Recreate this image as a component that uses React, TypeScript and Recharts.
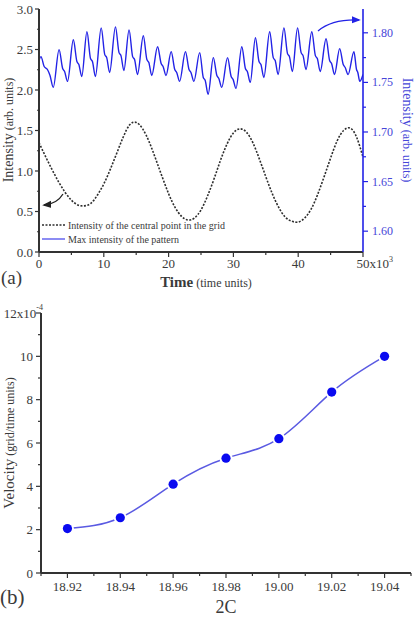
import React from "react";
import { ComposedChart, LineChart, Line, XAxis, YAxis, Legend } from "recharts";

const FONT = '"Liberation Serif", "Times New Roman", serif';
const INK = "#3a3a3a";
const AXIS = "#333333";
const FRAME = "#5a5a5a";
const BLUE = "#2222e6";
const BLUE_TEXT = "#4646d8";

// ---- panel (a): time in units of 10^3 time units ----
const centralTime = [
  0, 1, 2, 3, 4, 5, 6, 7, 8, 9, 10, 11, 12, 13, 14, 15, 16, 17, 18, 19, 20, 21, 22, 23, 24, 25,
  26, 27, 28, 29, 30, 31, 32, 33, 34, 35, 36, 37, 38, 39, 40, 41, 42, 43, 44, 45, 46, 47, 48, 49, 50,
];
const centralIntensity = [
  1.35, 1.18, 1.02, 0.87, 0.74, 0.64, 0.58, 0.57, 0.6, 0.7, 0.84, 1.02, 1.22, 1.42, 1.57, 1.6, 1.52,
  1.36, 1.15, 0.93, 0.72, 0.55, 0.44, 0.395, 0.42, 0.52, 0.69, 0.9, 1.13, 1.33, 1.47, 1.52, 1.48, 1.35,
  1.15, 0.93, 0.72, 0.55, 0.43, 0.38, 0.37, 0.42, 0.53, 0.71, 0.93, 1.16, 1.37, 1.5, 1.53, 1.42, 1.17,
];

// max intensity of the pattern: [time, intensity] on the right-hand scale
const maxTrace: [number, number][] = [
  [0, 1.772], [0.3, 1.776], [0.8, 1.766], [1.3, 1.763], [1.7, 1.757], [2.2, 1.745],
  [3.1, 1.783], [3.65, 1.764], [3.95, 1.761], [4.4, 1.751],
  [5.3, 1.793], [5.85, 1.771], [6.15, 1.768], [6.6, 1.756],
  [7.4, 1.801], [7.95, 1.774], [8.25, 1.771], [8.7, 1.756],
  [9.6, 1.805], [10.15, 1.778], [10.45, 1.775], [10.9, 1.76],
  [11.8, 1.806], [12.35, 1.78], [12.65, 1.777], [13.1, 1.762],
  [13.9, 1.803], [14.45, 1.776], [14.75, 1.773], [15.2, 1.758],
  [16.1, 1.797], [16.65, 1.773], [16.95, 1.77], [17.4, 1.757],
  [18.3, 1.786], [18.85, 1.769], [19.15, 1.766], [19.6, 1.757],
  [20.4, 1.781], [20.95, 1.763], [21.25, 1.76], [21.7, 1.751],
  [22.6, 1.781], [23.15, 1.763], [23.45, 1.76], [23.9, 1.751],
  [24.8, 1.78], [25.35, 1.755], [25.65, 1.752], [26.1, 1.738],
  [26.9, 1.775], [27.45, 1.757], [27.75, 1.754], [28.2, 1.745],
  [29.1, 1.775], [29.65, 1.756], [29.95, 1.753], [30.4, 1.744],
  [31.3, 1.786], [31.85, 1.764], [32.15, 1.761], [32.6, 1.75],
  [33.4, 1.795], [33.95, 1.771], [34.25, 1.768], [34.7, 1.755],
  [35.6, 1.801], [36.15, 1.775], [36.45, 1.772], [36.9, 1.758],
  [37.8, 1.805], [38.35, 1.779], [38.65, 1.776], [39.1, 1.761],
  [39.9, 1.805], [40.45, 1.78], [40.75, 1.777], [41.2, 1.763],
  [42.1, 1.801], [42.65, 1.777], [42.95, 1.774], [43.4, 1.761],
  [44.3, 1.794], [44.85, 1.772], [45.15, 1.769], [45.6, 1.758],
  [46.4, 1.784], [46.95, 1.768], [47.25, 1.765], [47.7, 1.758],
  [48.6, 1.781], [49.0, 1.763], [49.2, 1.76], [49.5, 1.751], [50, 1.758],
];

const timeTicks = [0, 5, 10, 15, 20, 25, 30, 35, 40, 45, 50];
const frameTimeTicks = [5, 10, 15, 20, 25, 30, 35, 40, 45];
const leftTicks = [0, 0.25, 0.5, 0.75, 1, 1.25, 1.5, 1.75, 2, 2.25, 2.5, 2.75, 3];
const rightTicks = [1.6, 1.625, 1.65, 1.675, 1.7, 1.725, 1.75, 1.775, 1.8];

// ---- panel (b): velocity in units of 10^-4 grid/time units ----
const coupling = [18.92, 18.94, 18.96, 18.98, 19.0, 19.02, 19.04];
const velocity = [2.05, 2.55, 4.1, 5.3, 6.2, 8.35, 10.0];
const couplingTicks = [
  18.91, 18.92, 18.93, 18.94, 18.95, 18.96, 18.97, 18.98, 18.99, 19.0, 19.01, 19.02, 19.03, 19.04, 19.05,
];
const velocityTicks = [0, 1, 2, 3, 4, 5, 6, 7, 8, 9, 10, 11, 12];

const centralData = centralTime.map((t, i) => ({ t, v: centralIntensity[i] }));
const maxData = maxTrace.map(([t, v]) => ({ t, v }));
const velocityData = coupling.map((c, i) => ({ c, v: velocity[i] }));

type Side = "top" | "bottom" | "left" | "right";
type TickLabel = { text: React.ReactNode; anchor?: "start" | "middle" | "end"; dx?: number } | null;

interface TickSpec {
  side: Side;
  isMajor: (v: number) => boolean;
  label?: (v: number) => TickLabel;
  stroke: string;
  fill?: string;
  fontSize?: number;
  majorLen: number;
  minorLen: number;
  gap?: number;
}

// draws its own tick mark (major/minor) plus the label, from the axis line outward
function axisTick(spec: TickSpec) {
  return function Tick(props: any) {
    const { x, y, payload } = props;
    const v = payload.value as number;
    const major = spec.isMajor(v);
    const len = major ? spec.majorLen : spec.minorLen;
    let x2 = x;
    let y2 = y;
    if (spec.side === "bottom" || spec.side === "top") y2 = y + len;
    if (spec.side === "left") x2 = x - len;
    if (spec.side === "right") x2 = x + len;
    const lab = major && spec.label ? spec.label(v) : null;
    const gap = spec.gap ?? 0;
    const common = {
      fontFamily: FONT,
      fontSize: spec.fontSize ?? 13,
      fill: spec.fill ?? INK,
    };
    let text: React.ReactNode = null;
    if (lab) {
      if (spec.side === "bottom") {
        text = (
          <text x={x + (lab.dx ?? 0)} y={y + gap} textAnchor={lab.anchor ?? "middle"} {...common}>
            {lab.text}
          </text>
        );
      } else if (spec.side === "left") {
        text = (
          <text x={x - gap + (lab.dx ?? 0)} y={y} dominantBaseline="central" textAnchor={lab.anchor ?? "end"} {...common}>
            {lab.text}
          </text>
        );
      } else if (spec.side === "right") {
        text = (
          <text x={x + gap} y={y} dominantBaseline="central" textAnchor="start" {...common}>
            {lab.text}
          </text>
        );
      }
    }
    return (
      <g>
        {len > 0 && <line x1={x} y1={y} x2={x2} y2={y2} stroke={spec.stroke} strokeWidth={1.2} />}
        {text}
      </g>
    );
  };
}

const timeTick = axisTick({
  side: "bottom",
  isMajor: (v) => v % 10 === 0,
  label: (v) =>
    v === 50
      ? {
          text: (
            <>
              <tspan>50x10</tspan>
              <tspan dy={-6} fontSize={8}>3</tspan>
            </>
          ),
          anchor: "start",
          dx: -6.5,
        }
      : { text: String(v) },
  stroke: AXIS,
  majorLen: 5,
  minorLen: 3,
  gap: 16,
});

const frameTick = axisTick({ side: "top", isMajor: () => true, stroke: AXIS, majorLen: 4, minorLen: 4 });

const leftTick = axisTick({
  side: "left",
  isMajor: (v) => Math.round(v * 100) % 50 === 0,
  label: (v) => ({ text: v.toFixed(1) }),
  stroke: AXIS,
  majorLen: 4,
  minorLen: 2,
  gap: 6,
});

const rightTick = axisTick({
  side: "right",
  isMajor: (v) => Math.round(v * 1000) % 50 === 0,
  label: (v) => ({ text: v.toFixed(2) }),
  stroke: BLUE,
  fill: BLUE_TEXT,
  fontSize: 12,
  majorLen: 5,
  minorLen: 3,
  gap: 9,
});

const couplingTick = axisTick({
  side: "bottom",
  isMajor: (v) => Math.round(v * 100) % 2 === 0,
  label: (v) => ({ text: v.toFixed(2) }),
  stroke: AXIS,
  majorLen: 5,
  minorLen: 3,
  gap: 18,
});

const velocityTick = axisTick({
  side: "left",
  isMajor: (v) => v % 2 === 0,
  label: (v) =>
    v === 12
      ? {
          text: (
            <>
              <tspan>12x10</tspan>
              <tspan dy={-6} fontSize={8}>-4</tspan>
            </>
          ),
          dx: 10,
        }
      : { text: String(v) },
  stroke: AXIS,
  majorLen: 5,
  minorLen: 3,
  gap: 8,
});

const legendDash: Record<string, string | undefined> = {
  "Intensity of the central point in the grid": "2 1.5",
  "Max intensity of the pattern": undefined,
};

function LegendBox(props: any) {
  const items: any[] = props.payload ?? [];
  return (
    <svg width={200} height={32} style={{ display: "block", overflow: "visible" }}>
      {items.map((it, i) => {
        const y = 10 + i * 14;
        return (
          <g key={String(it.value)}>
            <line
              x1={2}
              x2={25}
              y1={y}
              y2={y}
              stroke={it.color}
              strokeOpacity={legendDash[it.value] ? 1 : 0.65}
              strokeWidth={1.6}
              strokeDasharray={legendDash[it.value]}
            />
            <text x={28} y={y + 3.5} fontFamily={FONT} fontSize={10} fill={INK}>
              {it.value}
            </text>
          </g>
        );
      })}
    </svg>
  );
}

function Dot(props: any) {
  const { cx, cy } = props;
  if (cx == null || cy == null) return null;
  return (
    <g>
      <circle cx={cx} cy={cy} r={6.5} fill="#ffffff" />
      <circle cx={cx} cy={cy} r={4.6} fill="#0a0af0" />
    </g>
  );
}

export default function App() {
  return (
    <div style={{ position: "relative", width: 419, height: 617, background: "#fff" }}>
      <style>{"body{margin:0}"}</style>

      <ComposedChart width={419} height={300} margin={{ top: 9, right: 0, bottom: 0, left: 0 }}>
        <XAxis
          dataKey="t"
          type="number"
          domain={[0, 50]}
          allowDataOverflow
          ticks={timeTicks}
          interval={0}
          height={48}
          tickSize={0}
          tickMargin={0}
          tickLine={false}
          tick={timeTick}
          axisLine={{ stroke: AXIS, strokeWidth: 2 }}
        />
        <XAxis
          xAxisId="top"
          orientation="top"
          type="number"
          domain={[0, 50]}
          allowDataOverflow
          ticks={frameTimeTicks}
          interval={0}
          height={0}
          tickSize={0}
          tickMargin={0}
          tickLine={false}
          tick={frameTick}
          axisLine={{ stroke: FRAME, strokeWidth: 2 }}
        />
        <YAxis
          yAxisId="left"
          type="number"
          domain={[0, 3]}
          allowDataOverflow
          ticks={leftTicks}
          interval={0}
          width={39}
          tickSize={0}
          tickMargin={0}
          tickLine={false}
          tick={leftTick}
          axisLine={{ stroke: AXIS, strokeWidth: 2 }}
        />
        <YAxis
          yAxisId="right"
          orientation="right"
          type="number"
          domain={[1.579, 1.824]}
          allowDataOverflow
          ticks={rightTicks}
          interval={0}
          width={56}
          tickSize={0}
          tickMargin={0}
          tickLine={false}
          tick={rightTick}
          axisLine={{ stroke: BLUE, strokeWidth: 1.6 }}
        />
        <Line
          yAxisId="left"
          data={centralData}
          dataKey="v"
          name="Intensity of the central point in the grid"
          type="natural"
          stroke="#2e2e2e"
          strokeWidth={1.6}
          strokeDasharray="2 1.5"
          dot={false}
          isAnimationActive={false}
        />
        <Line
          yAxisId="right"
          data={maxData}
          dataKey="v"
          name="Max intensity of the pattern"
          type="monotone"
          stroke={BLUE}
          strokeWidth={1.4}
          dot={false}
          isAnimationActive={false}
        />
        <Legend
          layout="vertical"
          verticalAlign="middle"
          align="center"
          content={LegendBox}
          wrapperStyle={{ left: 40, top: 215, width: 200, height: 32 }}
        />
      </ComposedChart>

      <LineChart
        width={419}
        height={317}
        data={velocityData}
        margin={{ top: 13, right: 8, bottom: 0, left: 0 }}
      >
        <XAxis
          dataKey="c"
          type="number"
          domain={[18.91, 19.05]}
          allowDataOverflow
          ticks={couplingTicks}
          interval={0}
          height={44}
          tickSize={0}
          tickMargin={0}
          tickLine={false}
          tick={couplingTick}
          axisLine={{ stroke: AXIS, strokeWidth: 2 }}
        />
        <XAxis
          xAxisId="top"
          orientation="top"
          type="number"
          domain={[18.91, 19.05]}
          allowDataOverflow
          height={0}
          tick={false}
          tickLine={false}
          axisLine={{ stroke: FRAME, strokeWidth: 2 }}
        />
        <YAxis
          type="number"
          domain={[0, 12]}
          allowDataOverflow
          ticks={velocityTicks}
          interval={0}
          width={41}
          tickSize={0}
          tickMargin={0}
          tickLine={false}
          tick={velocityTick}
          axisLine={{ stroke: AXIS, strokeWidth: 2 }}
        />
        <YAxis
          yAxisId="frame"
          orientation="right"
          type="number"
          domain={[0, 12]}
          allowDataOverflow
          width={0}
          tick={false}
          tickLine={false}
          axisLine={{ stroke: FRAME, strokeWidth: 1.6 }}
        />
        <Line
          dataKey="v"
          type="natural"
          stroke="#5a5ae2"
          strokeWidth={1.5}
          dot={<Dot />}
          isAnimationActive={false}
        />
      </LineChart>

      {/* titles, panel letters and the two pointer arrows */}
      <svg
        width={419}
        height={617}
        style={{ position: "absolute", left: 0, top: 0, pointerEvents: "none" }}
        fontFamily={FONT}
      >
        <defs>
          <marker id="headK" viewBox="0 0 10 10" refX="8" refY="5" markerWidth="7" markerHeight="7" orient="auto">
            <path d="M0,1 L10,5 L0,9 Z" fill="#222" />
          </marker>
          <marker id="headB" viewBox="0 0 10 10" refX="8" refY="5" markerWidth="7" markerHeight="7" orient="auto">
            <path d="M0,1 L10,5 L0,9 Z" fill={BLUE} />
          </marker>
        </defs>
        <path d="M63,194 Q57,204 44,205" fill="none" stroke="#222" strokeWidth={1.3} markerEnd="url(#headK)" />
        <path d="M318,31 Q332,19 359,20" fill="none" stroke={BLUE} strokeWidth={1.3} markerEnd="url(#headB)" />

        <text transform="translate(13,130) rotate(-90)" textAnchor="middle" fill={INK}>
          <tspan fontSize={14}>Intensity</tspan>
          <tspan fontSize={12}> (arb. units)</tspan>
        </text>
        <text transform="translate(403,130) rotate(90)" textAnchor="middle" fill={BLUE_TEXT}>
          <tspan fontSize={14}>Intensity</tspan>
          <tspan fontSize={12}> (arb. units)</tspan>
        </text>
        <text x={206} y={287} textAnchor="middle" fill={INK}>
          <tspan fontSize={15} fontWeight="bold">Time</tspan>
          <tspan fontSize={12}> (time units)</tspan>
        </text>
        <text x={1} y={284} fontSize={19} fill={INK}>(a)</text>

        <text transform="translate(14,443) rotate(-90)" textAnchor="middle" fill={INK}>
          <tspan fontSize={15}>Velocity</tspan>
          <tspan fontSize={12}> (grid/time units)</tspan>
        </text>
        <text x={226} y={613} textAnchor="middle" fontSize={18} fill={INK}>2C</text>
        <text x={0} y={604} fontSize={21} fill={INK}>(b)</text>
      </svg>
    </div>
  );
}
